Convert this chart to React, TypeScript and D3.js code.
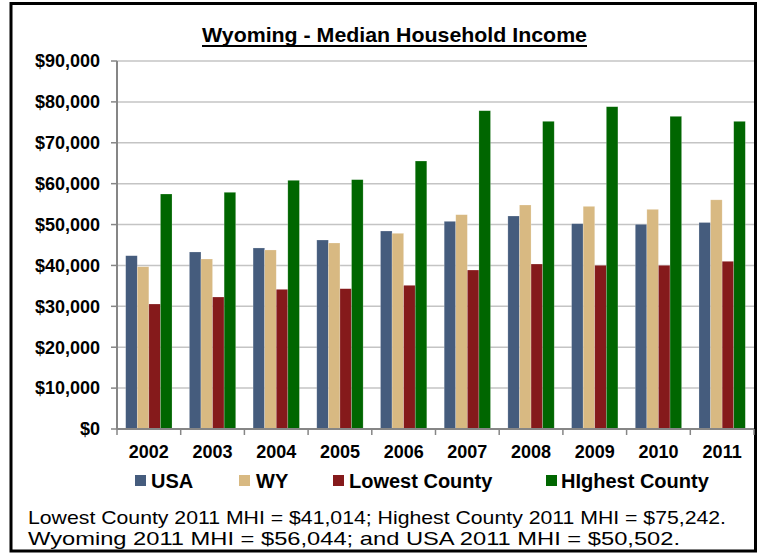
import React from "react";
import * as d3 from "d3";

const years = ["2002", "2003", "2004", "2005", "2006", "2007", "2008", "2009", "2010", "2011"];
const seriesNames = ["USA", "WY", "Lowest County", "HIghest County"];
const usa = [42380, 43290, 44270, 46220, 48420, 50790, 52090, 50210, 50050, 50502];
const wy = [39690, 41575, 43780, 45490, 47860, 52410, 54780, 54450, 53720, 56044];
const lowest = [30570, 32280, 34160, 34310, 35140, 38880, 40350, 40030, 40030, 41014];
const highest = [57470, 57890, 60820, 60980, 65540, 77840, 75250, 78820, 76470, 75242];
const yTicks = [0, 10000, 20000, 30000, 40000, 50000, 60000, 70000, 80000, 90000];
const colors = ["#455c7d", "#d8b982", "#851a1b", "#006600"];
const titleText = "Wyoming - Median Household Income";
const footer1 = "Lowest County 2011 MHI = $41,014; Highest County 2011 MHI = $75,242.";
const footer2 = "Wyoming 2011 MHI = $56,044; and USA 2011 MHI = $50,502.";

const W = 762;
const H = 554;
const plotLeft = 117;
const plotRight = 754;
const plotTop = 61;
const plotBottom = 429;
const FONT = "'Liberation Sans', Arial, Helvetica, sans-serif";

export default function App() {
  const series = [usa, wy, lowest, highest];
  const x0 = d3
    .scaleBand<string>()
    .domain(years)
    .range([plotLeft, plotRight])
    .paddingInner(1.5 / 5.5)
    .paddingOuter(0.75 / 5.5);
  const x1 = d3
    .scaleBand<number>()
    .domain([0, 1, 2, 3])
    .range([0, x0.bandwidth()]);
  const y = d3.scaleLinear().domain([0, 90000]).range([plotBottom, plotTop]);
  const fmt = (v: number) => "$" + d3.format(",")(v);
  const step = x0.step();
  const boundaries = d3.range(years.length + 1).map((i) => plotLeft + i * step);

  const legendSquares = [135, 239, 333, 546];
  const legendText = [151, 256, 349, 561];

  return (
    <svg
      width={W}
      height={H}
      style={{ position: "absolute", left: 0, top: 0, display: "block", background: "#fff" }}
      fontFamily={FONT}
    >
      <rect x={0} y={0} width={W} height={H} fill="#fff" />
      <rect x={11} y={3.5} width={744.5} height={547.5} fill="none" stroke="#000" strokeWidth={3} />

      {/* title */}
      <text
        x={202}
        y={42}
        fontSize={21}
        fontWeight="bold"
        fill="#000"
        textLength={385}
        lengthAdjust="spacingAndGlyphs"
      >
        {titleText}
      </text>
      <line x1={202} x2={587} y1={46} y2={46} stroke="#000" strokeWidth={2} />

      {/* gridlines */}
      {yTicks.map((t) =>
        t === 0 ? null : (
          <line key={t} x1={plotLeft} x2={plotRight} y1={y(t)} y2={y(t)} stroke="#c4c4c4" strokeWidth={1.5} />
        )
      )}

      {/* bars */}
      {years.map((yr, i) => (
        <g key={yr} transform={`translate(${x0(yr)},0)`}>
          {series.map((s, j) => (
            <rect
              key={j}
              x={x1(j)}
              y={y(s[i])}
              width={x1.bandwidth()}
              height={plotBottom - y(s[i])}
              fill={colors[j]}
              stroke="rgba(255,255,255,0.35)"
              strokeWidth={0.6}
            />
          ))}
        </g>
      ))}

      {/* y axis */}
      <line x1={plotLeft} x2={plotLeft} y1={plotTop} y2={plotBottom} stroke="#868686" strokeWidth={2} />
      {yTicks.map((t) => (
        <g key={t}>
          <line x1={plotLeft - 6} x2={plotLeft} y1={y(t)} y2={y(t)} stroke="#868686" strokeWidth={1.5} />
          <text x={100} y={y(t)} dy="0.35em" textAnchor="end" fontSize={18} fontWeight="bold" fill="#000">
            {fmt(t)}
          </text>
        </g>
      ))}

      {/* x axis */}
      <line x1={plotLeft} x2={plotRight} y1={plotBottom} y2={plotBottom} stroke="#868686" strokeWidth={2} />
      {boundaries.map((bx, i) => (
        <line key={i} x1={bx} x2={bx} y1={plotBottom} y2={plotBottom + 6} stroke="#868686" strokeWidth={1.5} />
      ))}
      {years.map((yr) => (
        <text
          key={yr}
          x={(x0(yr) as number) + x0.bandwidth() / 2}
          y={458}
          textAnchor="middle"
          fontSize={18}
          fontWeight="bold"
          fill="#000"
        >
          {yr}
        </text>
      ))}

      {/* legend */}
      {seriesNames.map((n, j) => (
        <g key={n}>
          <rect x={legendSquares[j]} y={475} width={11} height={11} fill={colors[j]} />
          <text x={legendText[j]} y={488} fontSize={20} fontWeight="bold" fill="#000">
            {n}
          </text>
        </g>
      ))}

      {/* footer */}
      <text x={28} y={524} fontSize={19} fill="#000" textLength={698} lengthAdjust="spacingAndGlyphs">
        {footer1}
      </text>
      <text x={28} y={545} fontSize={19} fill="#000" textLength={652} lengthAdjust="spacingAndGlyphs">
        {footer2}
      </text>
    </svg>
  );
}
